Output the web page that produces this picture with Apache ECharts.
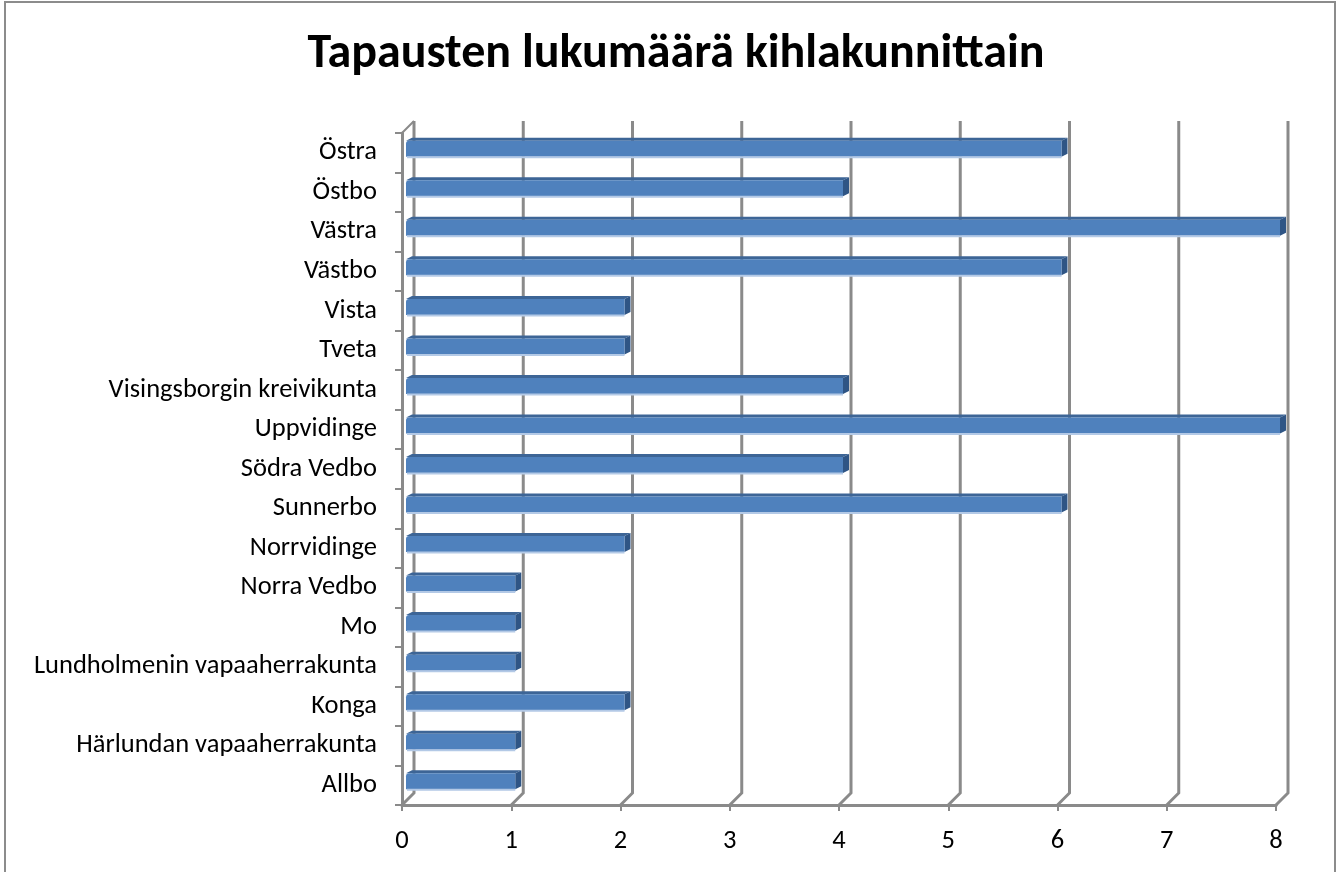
<!DOCTYPE html>
<html>
<head>
<meta charset="utf-8">
<script src="https://cdn.jsdelivr.net/npm/echarts@6/dist/echarts.min.js"></script>
<style>
  html, body { margin: 0; padding: 0; background: #fff; }
  #chart { width: 1344px; height: 872px; }
</style>
</head>
<body>
<div id="chart"></div>
<script>
// categories listed bottom to top, the way the category axis draws them
const categories = [
  'Allbo', 'Härlundan vapaaherrakunta', 'Konga', 'Lundholmenin vapaaherrakunta',
  'Mo', 'Norra Vedbo', 'Norrvidinge', 'Sunnerbo', 'Södra Vedbo', 'Uppvidinge',
  'Visingsborgin kreivikunta', 'Tveta', 'Vista', 'Västbo', 'Västra', 'Östbo', 'Östra'
];
const counts = [1, 1, 2, 1, 1, 1, 2, 6, 4, 8, 4, 2, 2, 6, 8, 4, 6];
const xTicks = [0, 1, 2, 3, 4, 5, 6, 7, 8];

const font = 'Carlito, "Liberation Sans", Arial, sans-serif';
const gridGray = '#8a8a8a';
const wallDepth = 12;   // px offset of the back wall
const barShift = 4;     // px offset of the bar front face
const barDepth = [6, -3];
const barHeight = 16;

const chart = echarts.init(document.getElementById('chart'));

function renderWall(params, api) {
  const cs = params.coordSys;
  const x = api.coord([api.value(0), 0])[0];
  const bottom = cs.y + cs.height;
  const top = cs.y;
  const children = [{
    type: 'polyline',
    shape: { points: [[x, bottom], [x + wallDepth, bottom - wallDepth], [x + wallDepth, top - wallDepth]] },
    style: { stroke: gridGray, lineWidth: 3, fill: null }
  }];
  if (api.value(0) === 0) {
    children.push({
      type: 'line',
      shape: { x1: x, y1: top, x2: x + wallDepth, y2: top - wallDepth },
      style: { stroke: gridGray, lineWidth: 2 }
    });
  }
  return { type: 'group', children };
}

function renderBar(params, api) {
  const idx = api.value(1);
  const p0 = api.coord([0, idx]);
  const p1 = api.coord([api.value(0), idx]);
  const x0 = p0[0] + barShift;
  const x1 = p1[0] + barShift;
  const top = p0[1] - barShift - barHeight / 2;
  const bottom = top + barHeight;
  const dx = barDepth[0], dy = barDepth[1];
  return {
    type: 'group',
    children: [
      {
        type: 'polygon',
        shape: { points: [[x0, top], [x1, top], [x1 + dx, top + dy], [x0 + dx, top + dy]] },
        style: { fill: '#3d6596' }
      },
      {
        type: 'polygon',
        shape: { points: [[x1, top], [x1 + dx, top + dy], [x1 + dx, bottom + dy], [x1, bottom]] },
        style: { fill: '#2f5585' }
      },
      {
        type: 'rect',
        shape: { x: x0, y: top, width: x1 - x0, height: barHeight, r: [3, 0, 0, 0] },
        style: { fill: '#4f81bd' }
      },
      {
        type: 'line',
        shape: { x1: x0 + 1, y1: bottom + 0.5, x2: x1, y2: bottom + 0.5 },
        style: { stroke: '#b3c9e6', lineWidth: 2 }
      }
    ]
  };
}

chart.setOption({
  animation: false,
  backgroundColor: '#fff',
  title: {
    text: 'Tapausten lukumäärä kihlakunnittain',
    left: 671,
    textAlign: 'center',
    top: 26,
    textStyle: { fontFamily: font, fontSize: 48, fontWeight: 'bold', color: '#000' }
  },
  graphic: [{
    type: 'rect',
    shape: { x: 5, y: 2, width: 1330, height: 900 },
    style: { fill: null, stroke: '#8c8c8c', lineWidth: 2 },
    silent: true
  }],
  grid: { left: 402, right: 68, top: 133, bottom: 67 },
  xAxis: {
    type: 'value',
    min: 0,
    max: 8,
    interval: 1,
    splitLine: { show: false },
    axisLine: { show: true, lineStyle: { color: gridGray, width: 3 } },
    axisTick: { show: true, length: 6, lineStyle: { color: gridGray, width: 2 } },
    axisLabel: { fontFamily: font, fontSize: 26.5, color: '#000', margin: 23 }
  },
  yAxis: {
    type: 'category',
    data: categories,
    axisLine: { show: true, lineStyle: { color: gridGray, width: 3 } },
    axisTick: { show: true, length: 7, lineStyle: { color: gridGray, width: 2 } },
    axisLabel: { fontFamily: font, fontSize: 26.5, color: '#000', margin: 25 }
  },
  series: [
    {
      type: 'custom',
      z: 1,
      renderItem: renderWall,
      encode: { x: 0, y: 1 },
      data: xTicks.map(v => [v, 0]),
      silent: true
    },
    {
      type: 'custom',
      z: 3,
      renderItem: renderBar,
      encode: { x: 0, y: 1 },
      data: counts.map((v, i) => [v, i])
    }
  ]
});

window.addEventListener('resize', () => chart.resize());
</script>
</body>
</html>
